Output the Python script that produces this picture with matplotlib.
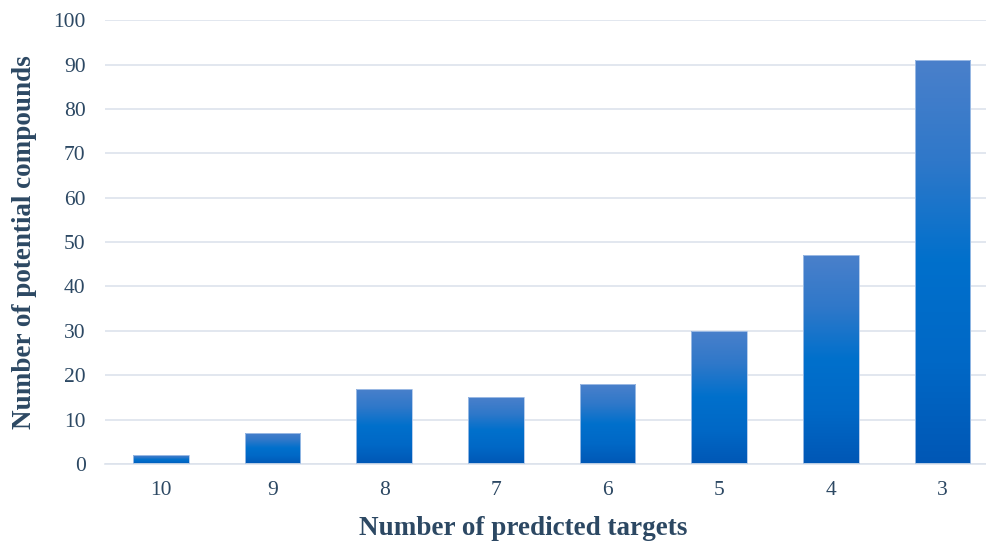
import numpy as np
import matplotlib.pyplot as plt
from matplotlib.colors import LinearSegmentedColormap

plt.rcParams['font.family'] = ['Liberation Serif', 'DejaVu Serif']

targets = ['10', '9', '8', '7', '6', '5', '4', '3']
compounds = [2, 7, 17, 15, 18, 30, 47, 91]

text_color = '#2c4863'
grid_color = '#dde3ec'

# vertical gradient for the bars: light steel blue on top, deep blue at the base
bar_cmap = LinearSegmentedColormap.from_list(
    'bar_grad', ['#0057b5', '#0068c6', '#0070cc', '#2f78c9', '#4a80cb'])

fig = plt.figure(figsize=(9.87, 5.44), dpi=100)
ax = fig.add_axes([0.1064, 0.147, 0.905, 0.816])

x = np.arange(len(targets))
bars = ax.bar(x, compounds, width=0.5, color='none', edgecolor='#a9c4e8',
              linewidth=0.6, zorder=3)

grad = np.linspace(0, 1, 256).reshape(-1, 1)
for rect in bars:
    x0, y0 = rect.get_x(), rect.get_y()
    w, h = rect.get_width(), rect.get_height()
    im = ax.imshow(grad, cmap=bar_cmap, origin='lower', aspect='auto',
                   extent=[x0, x0 + w, y0, y0 + h], zorder=2)
    im.set_clip_path(rect)

ax.set_xlim(-0.5, 7.5)
ax.set_ylim(0, 100)
ax.set_yticks(range(0, 101, 10))
ax.set_xticks(x)
ax.set_xticklabels(targets)

ax.grid(axis='y', color=grid_color, linewidth=1.2, zorder=0)
ax.set_axisbelow(True)
for side in ['top', 'right', 'left']:
    ax.spines[side].set_visible(False)
ax.spines['bottom'].set_color(grid_color)
ax.spines['bottom'].set_linewidth(1.2)

ax.tick_params(axis='both', length=0, labelsize=15.5, colors=text_color)
ax.tick_params(axis='x', pad=12)
ax.tick_params(axis='y', pad=14)

ax.set_xlabel('Number of predicted targets', fontsize=19.5, fontweight='bold',
              color=text_color)
ax.set_ylabel('Number of potential compounds', fontsize=19.5, fontweight='bold',
              color=text_color, labelpad=12)
ax.xaxis.set_label_coords(0.468, -0.118)

fig.savefig('out.png', dpi=100, facecolor='white')
